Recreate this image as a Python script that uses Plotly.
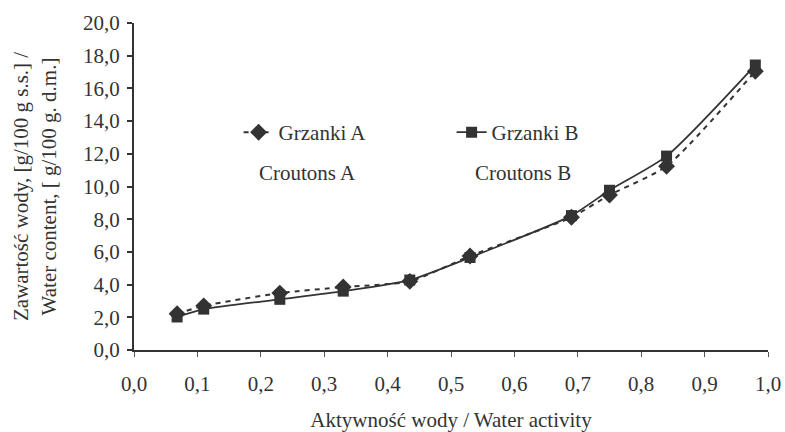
import plotly.graph_objects as go

# Data
water_activity = [0.068, 0.11, 0.23, 0.33, 0.435, 0.53, 0.69, 0.75, 0.84, 0.98]
grzanki_a = [2.22, 2.70, 3.48, 3.85, 4.20, 5.75, 8.12, 9.48, 11.24, 17.05]
grzanki_b = [2.02, 2.50, 3.10, 3.60, 4.28, 5.66, 8.22, 9.77, 11.86, 17.43]

x_ticks = [0.0, 0.1, 0.2, 0.3, 0.4, 0.5, 0.6, 0.7, 0.8, 0.9, 1.0]
y_ticks = [0, 2, 4, 6, 8, 10, 12, 14, 16, 18, 20]

name_a = "Grzanki A"
name_b = "Grzanki B"
note_a = "Croutons A"
note_b = "Croutons B"
x_title = "Aktywność wody / Water activity"
y_title = "Zawartość wody, [g/100 g s.s.] /<br>Water content, [ g/100 g. d.m.]"

FONT = "Liberation Serif"
INK = "#333333"

fig = go.Figure()
fig.add_trace(go.Scatter(
    x=water_activity, y=grzanki_a, name=name_a, mode="lines+markers",
    line=dict(color=INK, width=2, dash="5px,5px", shape="spline", smoothing=0.6),
    marker=dict(symbol="diamond", size=13, color=INK),
))
fig.add_trace(go.Scatter(
    x=water_activity, y=grzanki_b, name=name_b, mode="lines+markers",
    line=dict(color=INK, width=1.8, shape="spline", smoothing=0.6),
    marker=dict(symbol="square", size=11, color=INK),
))

fig.add_annotation(text=note_a, xref="paper", yref="paper", x=0.274, y=0.540,
                   xanchor="center", yanchor="middle",
                   showarrow=False, font=dict(family=FONT, size=21, color=INK))
fig.add_annotation(text=note_b, xref="paper", yref="paper", x=0.613, y=0.540,
                   xanchor="center", yanchor="middle",
                   showarrow=False, font=dict(family=FONT, size=21, color=INK))

fig.update_layout(
    width=785, height=432,
    margin=dict(l=134, r=17, t=23, b=82),
    paper_bgcolor="white", plot_bgcolor="white",
    separators=", ",
    font=dict(family=FONT, size=21, color=INK),
    showlegend=True,
    legend=dict(orientation="h", x=0.165, y=0.665, xanchor="left", yanchor="middle",
                font=dict(family=FONT, size=21, color=INK),
                entrywidth=168, entrywidthmode="pixels",
                bgcolor="rgba(0,0,0,0)", borderwidth=0),
    xaxis=dict(range=[0, 1.0], tickvals=x_ticks, tickformat=".1f", automargin=False,
               tickfont=dict(family=FONT, size=21, color=INK),
               showline=True, linewidth=2, linecolor=INK, mirror=False,
               ticks="outside", ticklen=5, tickwidth=1, tickcolor="#555555",
               showgrid=False, zeroline=False, ticklabelstandoff=9,
               title=dict(text=x_title, font=dict(family=FONT, size=21, color=INK), standoff=28)),
    yaxis=dict(range=[0, 20], tickvals=y_ticks, tickformat=".1f", automargin=False,
               tickfont=dict(family=FONT, size=21, color=INK),
               showline=True, linewidth=2, linecolor=INK,
               ticks="outside", ticklen=5, tickwidth=1.5, tickcolor=INK,
               showgrid=False, zeroline=False, ticklabelstandoff=3,
               title=dict(text=y_title, font=dict(family=FONT, size=21, color=INK), standoff=21)),
)

fig.write_html("out.html")
